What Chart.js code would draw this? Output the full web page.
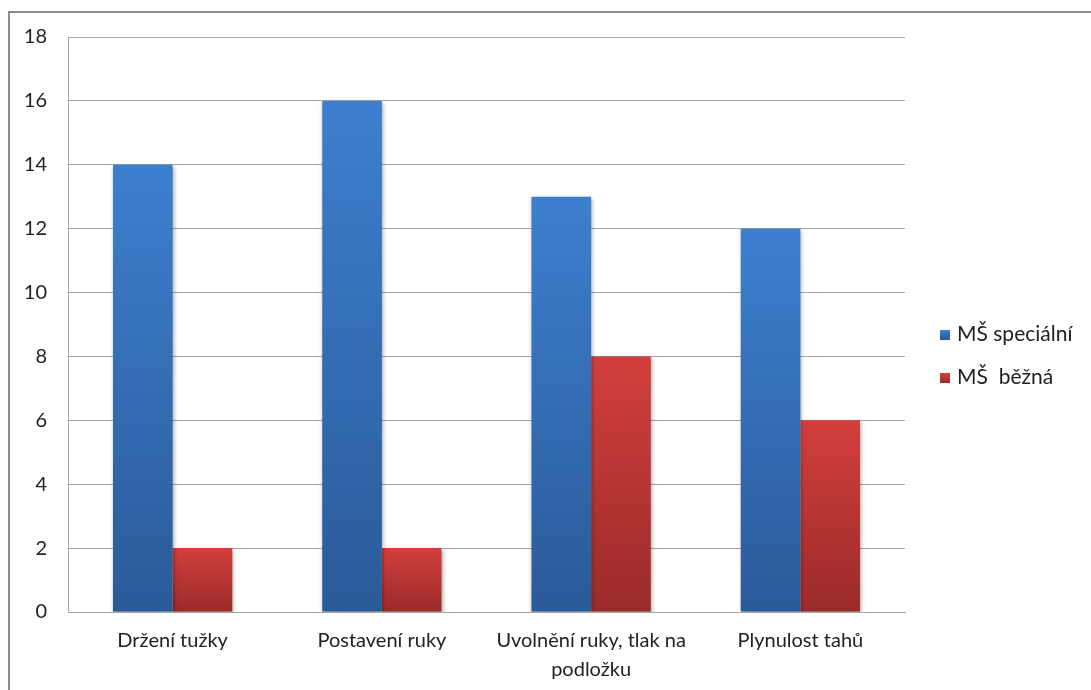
<html>
  <head>
    <meta http-equiv="Content-Type" content="text/html; charset=UTF-8" />
    <script src="https://cdn.jsdelivr.net/npm/chart.js@4.4.1/dist/chart.umd.min.js"></script>
    <style>
      html, body { margin: 0; padding: 0; background: #fff; overflow: hidden; }
      #frame { position: absolute; left: 8px; top: 11px; width: 1200px; height: 800px; border: 2px solid #8c8c8c; }
      #wrap { position: absolute; left: 0; top: 0; width: 1091px; height: 690px; }
      #legend { position: absolute; left: 940px; top: 320px; font-family: Lato, "Open Sans", sans-serif; font-size: 21px; color: #222; }
      #legend div { height: 43px; line-height: 26px; white-space: pre; }
      #legend span { display: inline-block; width: 10px; height: 10px; margin-right: 7px; vertical-align: 1px; }
    </style>
  </head>
  <body>
    <div id="frame"></div>
    <div id="wrap"><canvas id="chart" width="1091" height="690"></canvas></div>
    <div id="legend"></div>

    <script type="text/javascript">
      // categories and values
      const categories = ["Držení tužky", "Postavení ruky", ["Uvolnění ruky, tlak na", "podložku"], "Plynulost tahů"]
      const specialni = [14, 16, 13, 12]
      const bezna = [2, 2, 8, 6]
      const seriesNames = ["MŠ speciální", "MŠ  běžná"]
      const yTicks = [0, 2, 4, 6, 8, 10, 12, 14, 16, 18]

      // top / bottom colours of each bar gradient
      const blueStops = ["#3d7fcf", "#2b5a98"]
      const redStops = ["#d23f3c", "#9a2b2a"]

      function barGradient(stops) {
        return function (context) {
          const chart = context.chart
          if (!chart.chartArea || context.parsed == null) return stops[0]
          const y = chart.scales.y
          const top = y.getPixelForValue(context.parsed.y)
          const bottom = y.getPixelForValue(0)
          const g = chart.ctx.createLinearGradient(0, top, 0, bottom)
          g.addColorStop(0, stops[0])
          g.addColorStop(1, stops[1])
          return g
        }
      }

      // soft shadow under the bars
      const barShadow = {
        id: 'barShadow',
        beforeDatasetsDraw(chart) {
          const ctx = chart.ctx
          ctx.save()
          ctx.shadowColor = 'rgba(0,0,0,0.35)'
          ctx.shadowBlur = 4
          ctx.shadowOffsetX = 1
          ctx.shadowOffsetY = 2
        },
        afterDatasetsDraw(chart) {
          chart.ctx.restore()
        }
      }

      const font = { family: 'Lato, "Open Sans", sans-serif', size: 20 }

      const chart = new Chart(document.getElementById('chart'), {
        type: 'bar',
        data: {
          labels: categories,
          datasets: [{
            label: seriesNames[0],
            data: specialni,
            backgroundColor: barGradient(blueStops),
            barPercentage: 1,
            categoryPercentage: 0.57
          }, {
            label: seriesNames[1],
            data: bezna,
            backgroundColor: barGradient(redStops),
            barPercentage: 1,
            categoryPercentage: 0.57
          }]
        },
        plugins: [barShadow],
        options: {
          responsive: false,
          animation: false,
          layout: { padding: { top: 37, right: 186, bottom: 0, left: 0 } },
          plugins: {
            legend: { display: false },
            tooltip: { enabled: false }
          },
          scales: {
            x: {
              grid: { display: false, drawTicks: false },
              border: { color: '#a6a6a6', width: 1 },
              ticks: { color: '#222', font: Object.assign({ lineHeight: 1.45 }, font), padding: 14, maxRotation: 0, autoSkip: false },
              afterFit: s => { s.height = 78 }
            },
            y: {
              min: 0,
              max: 18,
              afterBuildTicks: s => { s.ticks = yTicks.map(v => ({ value: v })) },
              grid: { color: '#a6a6a6', lineWidth: 1, drawTicks: false },
              border: { color: '#a6a6a6', width: 1 },
              ticks: { color: '#222', font: font, padding: 21 },
              afterFit: s => { s.width = 68 }
            }
          }
        }
      })

      // legend next to the plot
      const legend = document.getElementById('legend')
      const legendStops = [blueStops, redStops]
      seriesNames.forEach((name, i) => {
        const row = document.createElement('div')
        const box = document.createElement('span')
        box.style.background = 'linear-gradient(' + legendStops[i][0] + ',' + legendStops[i][1] + ')'
        row.appendChild(box)
        row.appendChild(document.createTextNode(name))
        legend.appendChild(row)
      })
    </script>
  </body>
</html>
